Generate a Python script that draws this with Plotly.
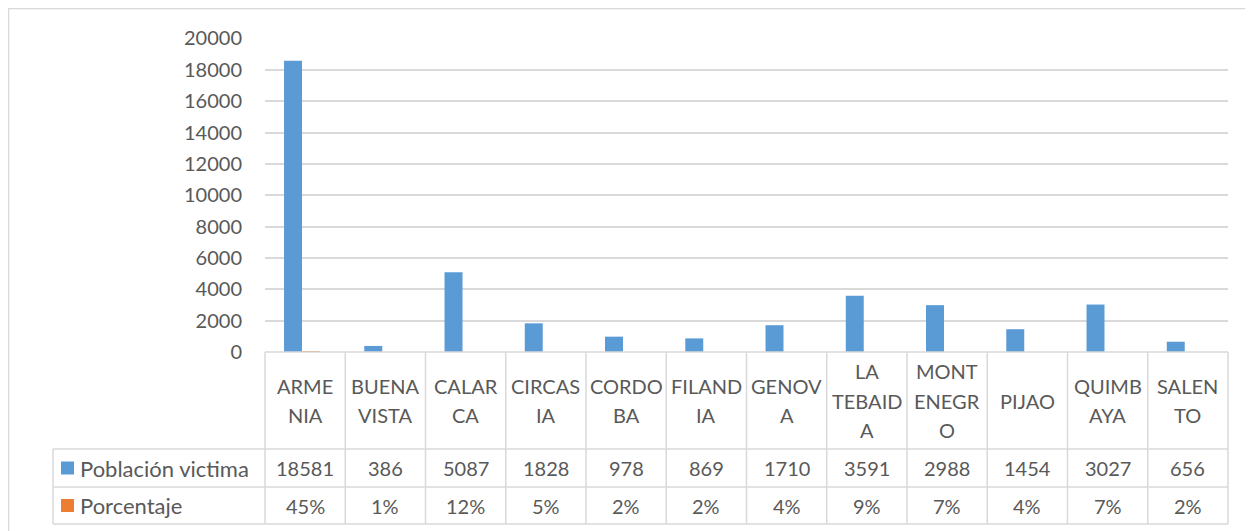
import plotly.graph_objects as go

# ---------------- data ----------------
categories = ["ARMENIA", "BUENAVISTA", "CALARCA", "CIRCASIA", "CORDOBA", "FILANDIA",
              "GENOVA", "LA TEBAIDA", "MONTENEGRO", "PIJAO", "QUIMBAYA", "SALENTO"]
category_labels = ["ARME\nNIA", "BUENA\nVISTA", "CALAR\nCA", "CIRCAS\nIA", "CORDO\nBA",
                   "FILAND\nIA", "GENOV\nA", "LA\nTEBAID\nA", "MONT\nENEGR\nO", "PIJAO",
                   "QUIMB\nAYA", "SALEN\nTO"]
poblacion = [18581, 386, 5087, 1828, 978, 869, 1710, 3591, 2988, 1454, 3027, 656]
porcentaje = [0.45, 0.01, 0.12, 0.05, 0.02, 0.02, 0.04, 0.09, 0.07, 0.04, 0.07, 0.02]
series_names = ["Población victima", "Porcentaje"]
y_ticks = list(range(0, 20001, 2000))
y_tick_labels = [str(v) for v in y_ticks]

# ---------------- style ----------------
OFF = 8  # page body margin
W, H = 1253 - OFF, 531 - OFF
PLOT_L, PLOT_R, PLOT_T, PLOT_B = 265, 1228, 38, 352  # reference pixels
ML, MR, MT, MB = PLOT_L - OFF, W - (PLOT_R - OFF), PLOT_T - OFF, H - (PLOT_B - OFF)
BLUE, ORANGE = "#5B9BD5", "#ED7D31"
GRID = "#D9D9D9"
TXT = "#595959"
FONT = "Lato, Calibri, sans-serif"
FS = 20

n = len(categories)
xs = list(range(n))
XMIN, XMAX = -0.5, n - 0.5
PW = W - ML - MR
PH = H - MT - MB


def px_x(px):
    return (px - OFF - ML) / PW


def px_y(py):
    return (H - MB - (py - OFF)) / PH


def cat_x(v):
    return (v - XMIN) / (XMAX - XMIN)


fig = go.Figure()
fig.add_trace(go.Bar(x=xs, y=poblacion, name=series_names[0], marker_color=BLUE,
                     width=0.224, offset=-0.263, marker_line_width=0))
fig.add_trace(go.Bar(x=xs, y=porcentaje, name=series_names[1], marker_color=ORANGE,
                     width=0.224, offset=-0.039, marker_line_width=0))

shapes = []
annotations = []
line = dict(color=GRID, width=1.5)

# table geometry (reference pixels)
TOP, R1, R2, BOT = 352, 449, 487, 524
LEFT = 53

for k in range(n + 1):
    xv = cat_x(XMIN + k)
    shapes.append(dict(type="line", xref="paper", yref="paper", x0=xv, x1=xv,
                       y0=px_y(TOP), y1=px_y(BOT), line=line))
shapes.append(dict(type="line", xref="paper", yref="paper", x0=0, x1=1,
                   y0=px_y(TOP), y1=px_y(TOP), line=line))
for yy in (R1, R2, BOT):
    shapes.append(dict(type="line", xref="paper", yref="paper", x0=px_x(LEFT), x1=1,
                       y0=px_y(yy), y1=px_y(yy), line=line))
shapes.append(dict(type="line", xref="paper", yref="paper", x0=px_x(LEFT), x1=px_x(LEFT),
                   y0=px_y(R1), y1=px_y(BOT), line=line))

# outer chart border
shapes.append(dict(type="line", xref="paper", yref="paper", x0=px_x(8), x1=px_x(1260),
                   y0=px_y(8.5), y1=px_y(8.5), line=dict(color=GRID, width=1.5)))
shapes.append(dict(type="line", xref="paper", yref="paper", x0=px_x(8.5), x1=px_x(8.5),
                   y0=px_y(8), y1=px_y(540), line=dict(color=GRID, width=1.5)))

# category labels
cy = (TOP + R1) / 2
LS = 29.5
for i, lab in enumerate(category_labels):
    parts = lab.split("\n")
    for j, p in enumerate(parts):
        yy = cy + (j - (len(parts) - 1) / 2) * LS
        annotations.append(dict(xref="paper", yref="paper", x=cat_x(xs[i]), y=px_y(yy),
                                text=p, showarrow=False, xanchor="center", yanchor="middle",
                                font=dict(family=FONT, size=FS, color=TXT)))

rows = [
    ([str(v) for v in poblacion], (R1 + R2) / 2, BLUE, series_names[0]),
    (["%d%%" % round(v * 100) for v in porcentaje], (R2 + BOT) / 2, ORANGE, series_names[1]),
]
for texts, yy, col, nm in rows:
    for i, t in enumerate(texts):
        annotations.append(dict(xref="paper", yref="paper", x=cat_x(xs[i]), y=px_y(yy),
                                text=t, showarrow=False, xanchor="center", yanchor="middle",
                                font=dict(family=FONT, size=FS, color=TXT)))
    shapes.append(dict(type="rect", xref="paper", yref="paper", x0=px_x(61), x1=px_x(74),
                       y0=px_y(yy - 6.5), y1=px_y(yy + 6.5), fillcolor=col, line_width=0))
    annotations.append(dict(xref="paper", yref="paper", x=px_x(78), y=px_y(yy),
                            text=nm, showarrow=False, xanchor="left", yanchor="middle",
                            font=dict(family=FONT, size=22, color=TXT)))

fig.update_layout(
    width=W, height=H,
    margin=dict(l=ML, r=MR, t=MT, b=MB),
    paper_bgcolor="white", plot_bgcolor="white",
    showlegend=False,
    barmode="overlay",
    font=dict(family=FONT, size=FS, color=TXT),
    xaxis=dict(range=[XMIN, XMAX], showticklabels=False, showgrid=False, zeroline=False,
               showline=False, ticks=""),
    yaxis=dict(range=[0, 20030], tickvals=y_ticks, ticktext=y_tick_labels,
               showgrid=True, gridcolor=GRID, gridwidth=1.5,
               zeroline=False, showline=False, ticks="", ticklabelstandoff=22,
               tickfont=dict(family=FONT, size=FS, color=TXT)),
    shapes=shapes,
    annotations=annotations,
)

fig.write_html("out.html")
